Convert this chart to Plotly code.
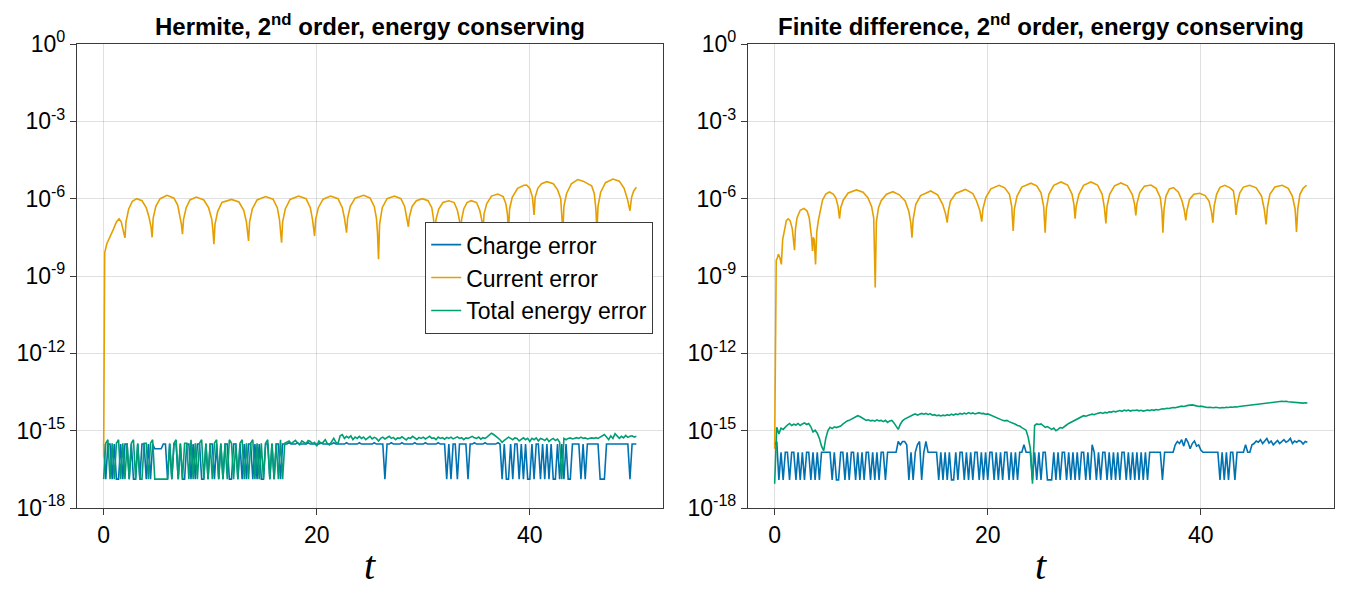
import numpy as np
import plotly.graph_objects as go

# ---------------- data (log10 of error values) ----------------
DT = 0.2  # sampling step of the charge / energy series

# level constants (log10)
U, V, M, L = -15.52, -15.47, -15.70, -16.88        # Hermite charge levels
G, Gh = -15.49, -15.35                              # Hermite energy levels
P, Q, H, H2 = -15.84, -16.91, -15.42, -15.55        # FD charge levels

# Hermite panel: charge error
charge_h = [
    U,L,U,U,L,U,L,L,U,L, U,U,L,U,L,L,U,L,U,U, L,U,L,U,M,M,M,M,U,U,
    L,U,L,U,U,L,U,L,L,U, U,L,U,L,U,U,L,L,U,L, U,U,L,U,L,U,L,U,U,L,
    L,U,U,L,U,L,U,L,U,U, L,U,L,U,L,L,U,U,L,U, L,U,U,L,U,
    U,U,V,U,U,U,V,U,U,U, U,V,U,U,U,U,U,V,U,U, U,U,U,V,U,U,U,U,U,V,
    U,U,U,U,U,V,U,U,U,U, U,U,V,U,U,U,U,
    L,
    U,U,V,U,U,U,U,V,U,U, U,U,U,V,U,U,U,U,V,U, U,U,U,U,V,U,U,U,
    L,U,L,U,U,L,U,U,U,U,L,
    U,U,V,U,U,U,U,V,U,U,U,U,U,V,U,
    L,U,L,L,U,L,U,U,L,U,L,U,L,L,U,L,U,U,L,U,L,U,L,U,L,L,U,L,U,L,U,
    L,L,U,U,U,U,L,U,L,U,U,U,U,U,U,L,L,L,U,U,U,U,U,U,U,U,U,U,U,L,U,U,U,
]

# Hermite panel: total energy error
energy_h = [
    L,G,Gh,L,G,L,G,Gh,L,G, L,G,L,G,Gh,L,G,L,L,G, G,L,G,Gh,L,L,L,L,L,L,
    L,G,L,G,Gh,L,G,L,G,G, L,Gh,L,G,L,G,Gh,L,G,L, G,L,G,Gh,L,G,L,G,L,Gh,
    G,L,G,L,G,Gh,L,G,L,G, Gh,L,G,L,G,L,G,Gh,L,G, L,G,L,Gh,L,G,
    -15.45,-15.4,-15.5,-15.42,-15.38,-15.48,-15.55,-15.4,-15.45,-15.5,
    -15.38,-15.42,-15.5,-15.45,-15.6,-15.4,-15.5,-15.45,-15.35,-15.5,
    -15.55,-15.4,-15.3,-15.45,-15.5,
    -15.2,-15.15,-15.3,-15.22,-15.28,-15.2,-15.35,-15.25,-15.3,-15.22,
    -15.3,-15.25,-15.35,-15.28,-15.22,-15.32,-15.26,-15.3,-15.4,-15.3,
    -15.25,-15.32,-15.28,-15.22,-15.3,-15.26,-15.35,-15.28,-15.3,-15.24,
    -15.3,-15.36,-15.27,-15.3,-15.22,-15.28,-15.34,-15.26,-15.3,-15.25,
    -15.32,-15.27,-15.22,-15.3,-15.28,-15.35,-15.25,-15.3,-15.27,-15.33,
    -15.26,-15.3,-15.25,-15.32,-15.28,-15.24,-15.3,-15.27,-15.35,-15.28,
    -15.3,-15.26,-15.22,-15.28,-15.3,-15.25,-15.33,-15.27,-15.3,-15.24,
    -15.18,-15.1,-15.15,-15.2,-15.28,-15.35,-15.45,-15.38,-15.3,-15.25,
    -15.3,-15.35,-15.28,-15.3,-15.4,-15.32,-15.28,-15.35,-15.3,-15.42,
    -15.3,-15.35,-15.28,-15.4,-15.3,-15.33,-15.38,-15.3,-15.42,-15.35,
    -15.3,-15.38,-15.33,-15.45,-16.88,-15.3,-15.35,-15.3,-15.28,-15.32,
    -15.3,-15.27,-15.3,-15.25,-15.3,-15.28,-15.32,-15.3,-15.28,-15.3,
    -15.27,-15.3,-15.26,-15.22,-15.15,-15.25,-15.35,-15.2,-15.3,-15.12,
    -15.2,-15.3,-15.22,-15.28,-15.18,-15.26,-15.22,-15.2,-15.25,-15.22,
]

# Hermite panel: current error (t, log10 value)
current_h = [
    (0.0,-16.0),(0.1,-8.1),(0.3,-7.75),(0.6,-7.5),(0.9,-7.2),(1.2,-6.9),(1.45,-6.78),(1.65,-6.9),(1.85,-7.2),(2.0,-7.52),
    (2.1,-6.9),(2.35,-6.4),(2.7,-6.1),(3.1,-6.0),(3.6,-6.08),(4.0,-6.35),(4.25,-6.7),(4.45,-7.1),(4.55,-7.5),
    (4.65,-6.75),(4.9,-6.3),(5.3,-6.0),(5.95,-5.87),(6.6,-5.98),(6.95,-6.25),(7.2,-6.7),(7.3,-7.0),(7.4,-7.38),
    (7.5,-6.8),(7.75,-6.35),(8.1,-6.05),(8.7,-5.94),(9.4,-6.05),(9.85,-6.35),(10.15,-6.8),(10.25,-7.2),(10.35,-7.77),
    (10.45,-7.0),(10.7,-6.5),(11.1,-6.15),(12.0,-6.03),(12.7,-6.13),(13.15,-6.45),(13.4,-6.9),(13.5,-7.2),(13.6,-7.64),
    (13.7,-6.9),(13.95,-6.4),(14.4,-6.05),(15.2,-5.92),(15.9,-6.02),(16.3,-6.35),(16.5,-6.8),(16.6,-7.2),(16.7,-7.71),
    (16.8,-6.9),(17.05,-6.4),(17.5,-6.03),(18.3,-5.9),(19.0,-6.0),(19.4,-6.35),(19.6,-6.8),(19.7,-7.1),(19.8,-7.45),
    (19.9,-6.8),(20.15,-6.35),(20.6,-6.02),(21.3,-5.9),(22.0,-6.0),(22.4,-6.35),(22.6,-6.75),(22.7,-7.0),(22.8,-7.32),
    (22.9,-6.75),(23.15,-6.3),(23.6,-5.98),(24.4,-5.87),(25.0,-5.97),(25.4,-6.3),(25.6,-6.75),(25.7,-7.3),(25.8,-8.35),
    (25.9,-7.0),(26.15,-6.35),(26.6,-6.0),(27.3,-5.9),(27.9,-6.0),(28.25,-6.3),(28.45,-6.7),(28.6,-7.09),
    (28.7,-6.7),(28.95,-6.3),(29.35,-6.08),(29.9,-6.0),(30.45,-6.08),(30.8,-6.35),(30.95,-6.75),(31.1,-7.4),
    (31.2,-6.8),(31.45,-6.4),(31.85,-6.15),(32.4,-6.08),(32.9,-6.15),(33.2,-6.45),(33.4,-6.85),(33.5,-7.4),
    (33.6,-6.8),(33.8,-6.4),(34.1,-6.15),(34.5,-6.08),(35.0,-6.15),(35.3,-6.45),(35.5,-6.85),(35.6,-7.3),
    (35.7,-6.6),(35.95,-6.2),(36.4,-5.9),(37.0,-5.82),(37.5,-5.92),(37.75,-6.2),(37.9,-6.6),(38.0,-7.3),
    (38.1,-6.4),(38.35,-5.95),(38.85,-5.6),(39.45,-5.48),(39.7,-5.47),(40.0,-5.6),(40.25,-5.95),(40.4,-6.63),
    (40.5,-5.95),(40.75,-5.6),(41.1,-5.42),(41.6,-5.34),(42.2,-5.42),(42.6,-5.65),(42.9,-6.0),(43.0,-6.5),(43.1,-7.3),
    (43.2,-6.3),(43.45,-5.8),(43.9,-5.42),(44.5,-5.26),(45.0,-5.32),(45.4,-5.42),(45.8,-5.5),(46.05,-5.8),(46.2,-6.4),(46.3,-7.3),
    (46.4,-6.3),(46.65,-5.75),(47.1,-5.38),(47.8,-5.24),(48.4,-5.32),(48.85,-5.6),(49.15,-6.0),(49.4,-6.47),
    (49.55,-5.95),(49.75,-5.7),(50.0,-5.56),
]

# Finite-difference panel: charge error
charge_fd = [
    H2,H,Q,P,Q,P,P,Q,P,P, Q,P,Q,P,Q,P,P,Q,P,Q, P,Q,P,P,P,P,P,Q,P,Q,
    Q,P,P,Q,P,Q,P,P,Q,P, Q,P,Q,P,P,Q,P,Q,P,Q,
    P,P,Q,P,P,P,P,P, H,H2,H,H,H2, Q,P,Q,P,H2,H,Q, P,H,P,P,P,P,P, Q,P,Q,
    P,Q,P,Q,Q,P,Q,P,P,Q, P,Q,P,Q,P,P,Q,P,Q,P, Q,P,P,Q,P,Q,P,Q,P,P,
    Q,P,Q,P,Q,P,P,H2,P,P, P,Q,P,Q,P,Q,P,P,Q,Q, Q,P,Q,P,Q,P,P,Q,P,Q,
    P,Q,P,Q,P,P,Q,P,Q,H2, P,Q,P,Q,P,P,Q,P,Q,P, Q,P,Q,P,P,Q,P,Q,P,Q,
    P,Q,P,Q,P,Q,P,P,P,P, P,P,Q,P,P,P,P,P,H2,H,
    -15.5,-15.35,-15.6,-15.3,-15.45,-15.7,-15.5,-15.4,-15.6,-15.55,-15.75,-15.84,
    P,P,P,P,P,P,P,
    Q,P,Q,P,Q,P,P,Q,P,
    P,P,P,H2,P,P,H2,
    -15.5,-15.4,-15.45,-15.35,-15.5,-15.42,-15.3,-15.48,-15.4,-15.55,
    -15.45,-15.38,-15.5,-15.42,-15.35,-15.45,-15.4,-15.3,-15.5,-15.4,
    -15.45,-15.38,-15.42,-15.52,-15.42,-15.45,
]

# Finite-difference panel: total energy error
energy_fd = [
    -17.06,-14.87,-15.13,-14.9,-14.95,-14.85,-14.78,-14.72,-14.8,-14.75,
    -14.78,-14.72,-14.8,-14.74,-14.7,-14.76,-14.72,-14.85,-15.05,-14.98,
    -15.1,-15.3,-15.6,-15.78,-15.3,-15.0,-14.87,-14.92,-14.85,-14.88,
    -14.85,-14.82,-14.75,-14.68,-14.62,-14.6,-14.55,-14.5,-14.45,-14.42,
    -14.45,-14.5,-14.55,-14.6,-14.58,-14.62,-14.6,-14.63,-14.58,-14.62,
    -14.6,-14.65,-14.6,-14.68,-14.62,-14.6,-14.7,-14.85,-14.95,-14.75,
    -14.62,-14.55,-14.5,-14.45,-14.42,-14.38,-14.35,-14.4,-14.36,-14.33,
    -14.36,-14.33,-14.38,-14.34,-14.4,-14.38,-14.42,-14.4,-14.43,-14.4,
    -14.42,-14.38,-14.41,-14.36,-14.4,-14.35,-14.38,-14.33,-14.36,-14.32,
    -14.35,-14.3,-14.34,-14.31,-14.35,-14.32,-14.3,-14.34,-14.33,-14.36,
    -14.35,-14.38,-14.42,-14.45,-14.5,-14.55,-14.58,-14.6,-14.62,-14.6,
    -14.65,-14.68,-14.7,-14.75,-14.8,-14.82,-14.88,-14.92,-14.98,-15.26,
    -15.7,-17.06,-14.8,-14.74,-14.76,-14.74,-14.8,-14.87,-14.84,-14.9,
    -14.95,-14.9,-15.0,-14.95,-14.88,-14.9,-14.82,-14.78,-14.72,-14.68,
    -14.62,-14.58,-14.55,-14.5,-14.47,-14.42,-14.44,-14.4,-14.38,-14.36,
    -14.38,-14.34,-14.32,-14.3,-14.33,-14.29,-14.31,-14.27,-14.28,-14.25,
    -14.27,-14.24,-14.22,-14.25,-14.2,-14.23,-14.2,-14.24,-14.21,-14.22,
    -14.2,-14.23,-14.21,-14.24,-14.22,-14.2,-14.22,-14.19,-14.21,-14.18,
    -14.2,-14.17,-14.15,-14.16,-14.13,-14.14,-14.12,-14.1,-14.11,-14.08,
    -14.07,-14.05,-14.06,-14.03,-14.02,-14.01,-14.0,-14.02,-14.04,-14.06,
    -14.05,-14.07,-14.08,-14.1,-14.09,-14.1,-14.11,-14.09,-14.1,-14.12,
    -14.1,-14.11,-14.09,-14.1,-14.08,-14.09,-14.07,-14.08,-14.06,-14.05,
    -14.03,-14.04,-14.02,-14.0,-14.01,-13.99,-13.98,-13.96,-13.95,-13.94,
    -13.93,-13.92,-13.91,-13.9,-13.9,-13.88,-13.89,-13.87,-13.86,-13.87,
    -13.86,-13.88,-13.89,-13.91,-13.92,-13.93,-13.92,-13.94,-13.93,-13.92,
    -13.93,
]

# Finite-difference panel: current error (t, log10 value)
current_fd = [
    (0.0,-15.7),(0.15,-8.4),(0.25,-8.3),(0.35,-8.15),(0.5,-8.3),(0.63,-8.55),
    (0.75,-7.6),(0.95,-7.1),(1.1,-6.85),(1.27,-6.78),(1.45,-6.85),(1.65,-7.15),(1.8,-7.6),(1.87,-8.0),
    (1.95,-7.2),(2.1,-6.75),(2.4,-6.45),(2.75,-6.38),(3.05,-6.48),(3.25,-6.75),(3.45,-7.45),(3.56,-8.03),(3.63,-7.5),(3.72,-7.6),(3.84,-8.55),
    (3.95,-7.3),(4.1,-6.85),(4.5,-6.05),(4.8,-5.82),(5.14,-5.74),(5.5,-5.82),(5.75,-5.98),(5.95,-6.3),(6.09,-6.78),
    (6.2,-6.35),(6.45,-6.05),(6.9,-5.78),(7.68,-5.66),(8.3,-5.75),(8.75,-5.96),(9.1,-6.3),(9.3,-6.75),(9.44,-9.45),
    (9.55,-6.9),(9.75,-6.35),(10.0,-6.08),(10.5,-5.83),(11.1,-5.73),(11.7,-5.85),(12.25,-6.09),(12.6,-6.5),(12.78,-6.95),(12.89,-7.51),
    (13.0,-6.8),(13.25,-6.22),(13.7,-5.88),(14.65,-5.7),(15.3,-5.85),(15.77,-6.22),(16.05,-6.6),(16.2,-6.93),
    (16.3,-6.5),(16.5,-6.09),(17.0,-5.8),(17.9,-5.64),(18.6,-5.8),(18.95,-6.09),(19.25,-6.45),(19.44,-6.89),
    (19.55,-6.4),(19.82,-5.96),(20.3,-5.62),(21.06,-5.48),(21.6,-5.58),(22.04,-5.83),(22.25,-6.3),(22.39,-7.25),
    (22.5,-6.4),(22.75,-5.9),(23.2,-5.55),(24.05,-5.4),(24.6,-5.5),(25.0,-5.77),(25.25,-6.3),(25.39,-7.32),
    (25.5,-6.4),(25.74,-5.83),(26.2,-5.48),(26.87,-5.35),(27.5,-5.47),(27.92,-5.83),(28.1,-6.25),(28.2,-6.78),
    (28.3,-6.3),(28.56,-5.83),(29.0,-5.48),(29.68,-5.35),(30.3,-5.47),(30.74,-5.83),(30.95,-6.35),(31.09,-6.96),
    (31.2,-6.3),(31.44,-5.83),(31.9,-5.5),(32.5,-5.39),(33.1,-5.5),(33.56,-5.83),(33.78,-6.2),(33.9,-6.65),
    (34.0,-6.2),(34.26,-5.77),(34.7,-5.52),(35.32,-5.47),(35.8,-5.6),(36.2,-5.96),(36.35,-6.5),(36.44,-7.32),
    (36.55,-6.4),(36.73,-5.9),(37.05,-5.62),(37.43,-5.57),(37.9,-5.75),(38.24,-6.09),(38.45,-6.45),(38.59,-6.84),
    (38.7,-6.45),(38.94,-6.03),(39.35,-5.83),(39.89,-5.79),(40.4,-5.88),(40.77,-6.09),(41.0,-6.5),(41.13,-6.93),
    (41.25,-6.3),(41.48,-5.83),(41.8,-5.56),(42.25,-5.48),(42.75,-5.58),(43.06,-5.7),(43.2,-6.1),(43.31,-6.63),
    (43.42,-6.2),(43.66,-5.77),(44.0,-5.55),(44.58,-5.48),(45.2,-5.58),(45.7,-5.9),(45.95,-6.4),(46.13,-7.0),
    (46.25,-6.35),(46.48,-5.83),(46.95,-5.55),(47.64,-5.48),(48.2,-5.6),(48.59,-5.9),(48.85,-6.4),(48.98,-7.29),
    (49.1,-6.4),(49.3,-5.83),(49.6,-5.6),(49.93,-5.48),
]

titles = ["Hermite, 2<sup>nd</sup> order, energy conserving",
          "Finite difference, 2<sup>nd</sup> order, energy conserving"]
names = ["Charge error", "Current error", "Total energy error"]
ytick_exps = [0, -3, -6, -9, -12, -15, -18]
xtick_vals = [0, 20, 40]

# ---------------- styling ----------------
BLUE, ORANGE, GREEN = "#0072B2", "#E69F00", "#009E73"
FONT = "Liberation Sans, Arial, sans-serif"
LW = 1.6


def grid_series(vals):
    t = np.arange(len(vals)) * DT
    return t, 10.0 ** np.array(vals, dtype=float)


def pair_series(pairs):
    a = np.array(pairs, dtype=float)
    return a[:, 0], 10.0 ** a[:, 1]


fig = go.Figure()
panels = [(charge_h, current_h, energy_h, "x", "y", True),
          (charge_fd, current_fd, energy_fd, "x2", "y2", False)]
for ch, cu, en, xa, ya, show in panels:
    tx, vy = grid_series(ch)
    fig.add_trace(go.Scatter(x=tx, y=vy, mode="lines", name=names[0],
                             line=dict(color=BLUE, width=LW), xaxis=xa, yaxis=ya,
                             showlegend=show, legendgroup="c"))
    tx, vy = pair_series(cu)
    fig.add_trace(go.Scatter(x=tx, y=vy, mode="lines", name=names[1],
                             line=dict(color=ORANGE, width=LW), xaxis=xa, yaxis=ya,
                             showlegend=show, legendgroup="j"))
    tx, vy = grid_series(en)
    fig.add_trace(go.Scatter(x=tx, y=vy, mode="lines", name=names[2],
                             line=dict(color=GREEN, width=LW), xaxis=xa, yaxis=ya,
                             showlegend=show, legendgroup="e"))

W, Hh = 1350, 599
OFF = 8  # page body margin of the browser
px = lambda v: (v - OFF) / W          # screen x pixel -> paper x
py = lambda v: 1 - (v - OFF) / Hh     # screen y pixel -> paper y

dom_x1 = [px(77), px(663)]
dom_x2 = [px(748), px(1334)]
dom_y = [py(508), py(44)]

axis_common = dict(showline=True, mirror=True, linecolor="#3a3a3a", linewidth=1.2,
                   showgrid=True, gridcolor="rgba(0,0,0,0.12)", gridwidth=1,
                   ticks="outside", ticklen=6, tickcolor="#3a3a3a", tickwidth=1,
                   zeroline=False, automargin=False,
                   tickfont=dict(family=FONT, size=23, color="black"))

xa = dict(axis_common, range=[-2.5, 52.5], tickmode="array", tickvals=xtick_vals,
          ticktext=[str(v) for v in xtick_vals])
ya = dict(axis_common, type="log", range=[-18, 0], tickmode="array",
          tickvals=[10.0 ** e for e in ytick_exps],
          ticktext=["10<sup>%d</sup>" % e for e in ytick_exps])

fig.update_layout(
    width=W, height=Hh, margin=dict(l=0, r=0, t=0, b=0, autoexpand=False),
    paper_bgcolor="white", plot_bgcolor="white",
    font=dict(family=FONT, size=24, color="black"),
    xaxis=dict(xa, domain=dom_x1, anchor="y"),
    yaxis=dict(ya, domain=dom_y, anchor="x"),
    xaxis2=dict(xa, domain=dom_x2, anchor="y2"),
    yaxis2=dict(ya, domain=dom_y, anchor="x2"),
    legend=dict(x=px(653), y=py(222), xanchor="right", yanchor="top",
                bgcolor="white", bordercolor="#3a3a3a", borderwidth=1.2,
                font=dict(family=FONT, size=23, color="black"),
                tracegroupgap=0, itemwidth=30),
    showlegend=True,
)

for dx, title in zip([dom_x1, dom_x2], titles):
    cx = (dx[0] + dx[1]) / 2
    fig.add_annotation(x=cx, y=py(25), xref="paper", yref="paper",
                       text="<b>%s</b>" % title, showarrow=False,
                       xanchor="center", yanchor="middle",
                       font=dict(family=FONT, size=24, color="black"))
    fig.add_annotation(x=cx, y=py(565), xref="paper", yref="paper",
                       text="<i>t</i>", showarrow=False,
                       xanchor="center", yanchor="middle",
                       font=dict(family="Liberation Serif, DejaVu Serif, serif", size=40, color="black"))

fig.write_html("out.html")
